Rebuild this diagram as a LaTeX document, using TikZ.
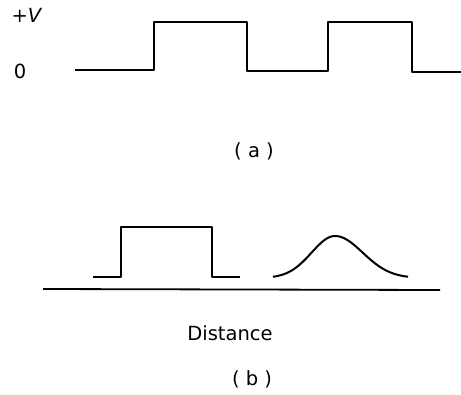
\documentclass[tikz,border=0pt]{standalone}
\usepackage{fontspec}
\setmainfont{DejaVu Sans}
\usetikzlibrary{positioning}

\begin{document}
\begin{tikzpicture}[
  x=1pt, y=-1pt,
  wave/.style={line width=2pt, line join=round},
  axis/.style={line width=1.8pt},
  label/.style={font=\fontsize{19.5}{22}\selectfont, inner sep=0pt},
]
\useasboundingbox (0,0) rectangle (461,394);

% (a) square wave
\node[label] (vplus) at (27,15) {+\textit{V}};
\node[label] (zero) at (20,71) {0};
\draw[wave] (75,70) -- (154,70) -- (154,22) -- (247,22) -- (247,71)
  -- (328,71) -- (328,22) -- (412,22) -- (412,72) -- (461,72);
\node[label] (capa) at (254,151) {( a )};

% (b) pulse and spread pulse
\draw[wave] (93,277) -- (121,277) -- (121,227) -- (212,227) -- (212,277) -- (240,277);
\draw[wave] plot[domain=273:335, samples=40] ({\x},{278-42*exp(-((\x-335)/33)^2)});
\draw[wave] plot[domain=335:408, samples=40] ({\x},{278-42*exp(-((\x-335)/39)^2)});
\draw[axis] (43,289) -- (440,290);
\node[label] (dist) at (230,333) {Distance};
\node[label] (capb) at (252,379) {( b )};
\end{tikzpicture}
\end{document}
